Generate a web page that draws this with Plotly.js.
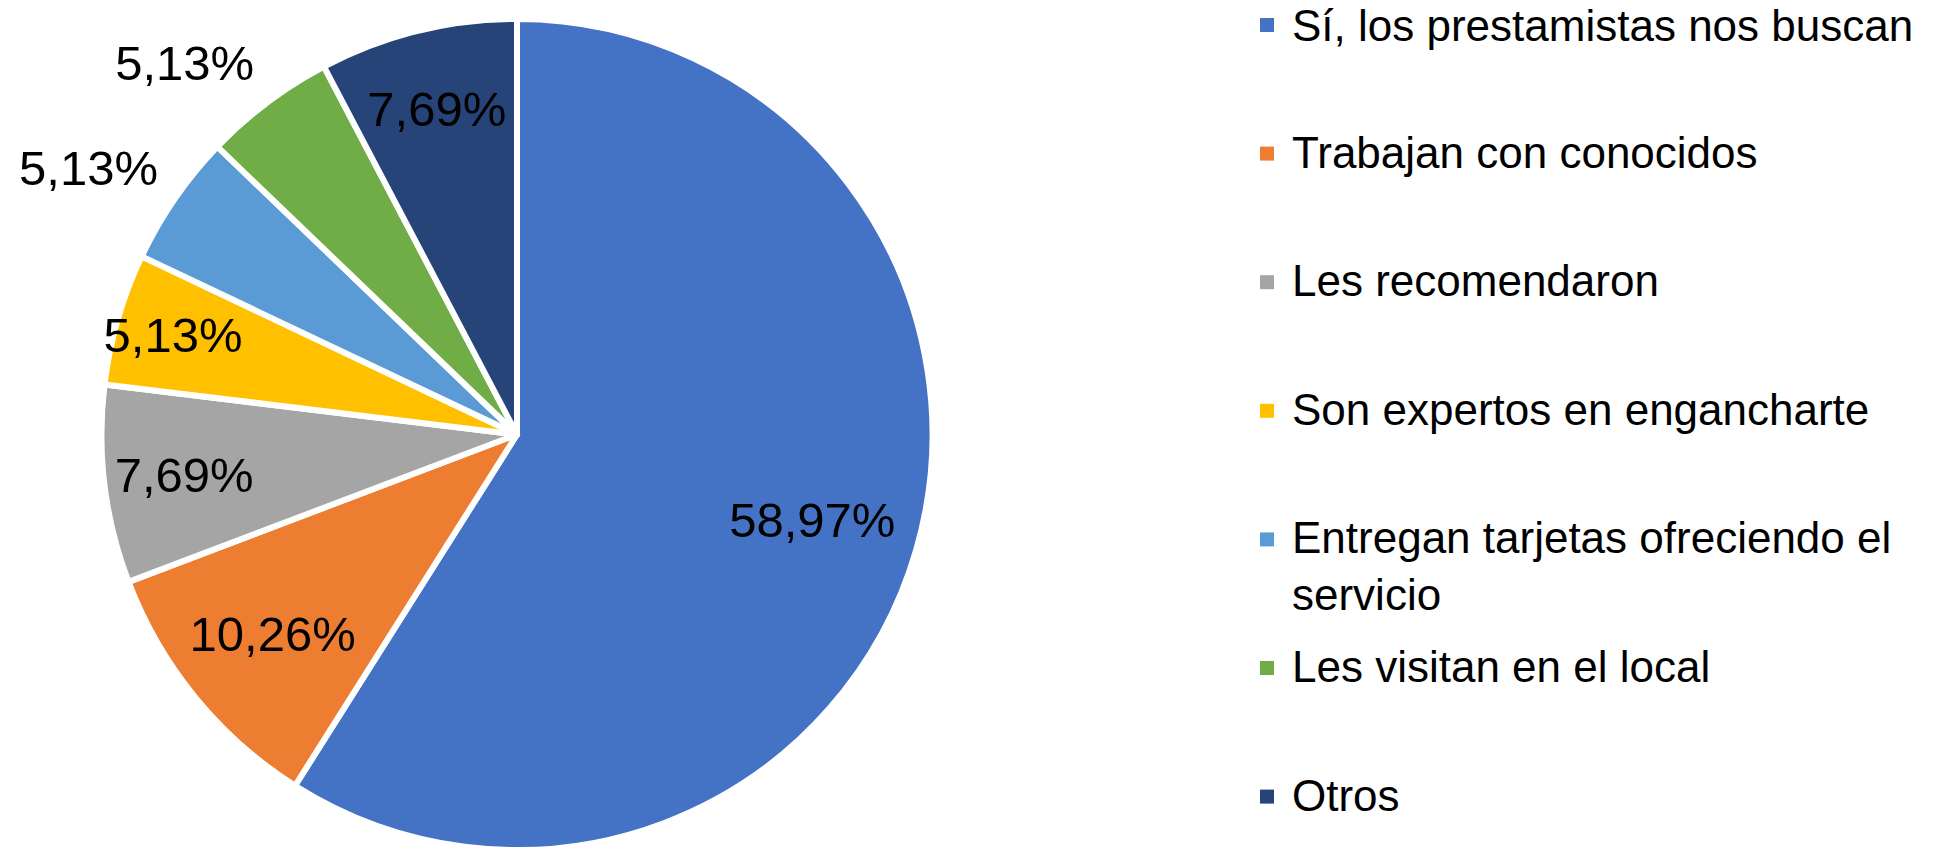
<!DOCTYPE html>
<html>
<head>
<meta charset="utf-8">
<script src="https://cdn.plot.ly/plotly-3.0.1.min.js"></script>
<style>html,body{margin:0;padding:0;background:#ffffff;}</style>
</head>
<body>
<div id="chart" style="width:1936px;height:850px"></div>
<script>
// ---- data ----
const categories = [
  'Sí, los prestamistas nos buscan',
  'Trabajan con conocidos',
  'Les recomendaron',
  'Son expertos en engancharte',
  'Entregan tarjetas ofreciendo el<br>servicio',
  'Les visitan en el local',
  'Otros'
];
const shares = [58.97, 10.26, 7.69, 5.13, 5.13, 5.13, 7.69];
const colors = ['#4472C4', '#ED7D31', '#A5A5A5', '#FFC000', '#5B9BD5', '#70AD47', '#264478'];
const labelPlacement = ['inside', 'inside', 'inside', 'inside', 'outside', 'outside', 'inside'];

// ---- layout helpers ----
const W = 1936, H = 850;
const FONT = 'Liberation Sans, Arial, sans-serif';
const CX = 517, R = 416;
const pieDomain = {x: [(CX - R) / W, (CX + R) / W], y: [0, (H - 19) / H]};
// outside labels sit a little further from the pie than Plotly's default
const outerDomain = {x: [(CX - H / 2) / W, (CX + H / 2) / W], y: [0, 1]};
const percentText = shares.map(v => v.toFixed(2).replace('.', ',') + '%');
const insideText = percentText.map((t, i) => labelPlacement[i] === 'inside' ? t : '');
const outsideText = percentText.map((t, i) => labelPlacement[i] === 'outside' ? t : '');
const clear = categories.map(() => 'rgba(0,0,0,0)');

const common = {
  type: 'pie',
  labels: categories,
  values: shares,
  sort: false,
  direction: 'clockwise',
  showlegend: false
};

const basePie = Object.assign({}, common, {
  rotation: 0,
  domain: pieDomain,
  marker: {colors: colors, line: {color: '#ffffff', width: 6}},
  textinfo: 'none',
  hoverinfo: 'label+percent'
});

// transparent copy carrying the inside data labels
const insideLabelPie = Object.assign({}, common, {
  rotation: 0,
  domain: pieDomain,
  hole: 0.48,
  text: insideText,
  marker: {colors: clear, line: {width: 0}},
  texttemplate: '%{text}',
  textposition: 'inside',
  insidetextorientation: 'horizontal',
  textfont: {family: FONT, size: 49, color: '#000000'},
  hoverinfo: 'skip'
});

// transparent copy carrying the outside data labels
const outsideLabelPie = Object.assign({}, common, {
  rotation: 1,
  domain: outerDomain,
  text: outsideText,
  marker: {colors: clear, line: {width: 0}},
  texttemplate: '%{text}',
  textposition: 'outside',
  textfont: {family: FONT, size: 49, color: '#000000'},
  hoverinfo: 'skip'
});

// ---- manual legend (text + colour squares) ----
const legendX = 1291, markerX = 1260, markerSize = 14;
const legendTop = 25, legendStep = 128.6;
const annotations = [];
const shapes = [];
categories.forEach((c, i) => {
  const yc = legendTop + legendStep * i;
  shapes.push({
    type: 'rect', xref: 'paper', yref: 'paper',
    x0: markerX / W, x1: (markerX + markerSize) / W,
    y0: 1 - (yc + markerSize / 2) / H, y1: 1 - (yc - markerSize / 2) / H,
    fillcolor: colors[i], line: {width: 0}
  });
  annotations.push({
    xref: 'paper', yref: 'paper',
    x: legendX / W, y: 1 - Math.max(0, yc - 27) / H,
    xanchor: 'left', yanchor: 'top', align: 'left',
    borderpad: 0,
    text: c, showarrow: false,
    font: {family: FONT, size: 44, color: '#000000'}
  });
});

const layout = {
  width: W, height: H,
  margin: {l: 0, r: 0, t: 0, b: 0},
  paper_bgcolor: '#ffffff',
  plot_bgcolor: '#ffffff',
  showlegend: false,
  uniformtext: {mode: 'show', minsize: 49},
  annotations: annotations,
  shapes: shapes
};

Plotly.newPlot('chart', [basePie, insideLabelPie, outsideLabelPie], layout, {displayModeBar: false, staticPlot: true});
</script>
</body>
</html>
